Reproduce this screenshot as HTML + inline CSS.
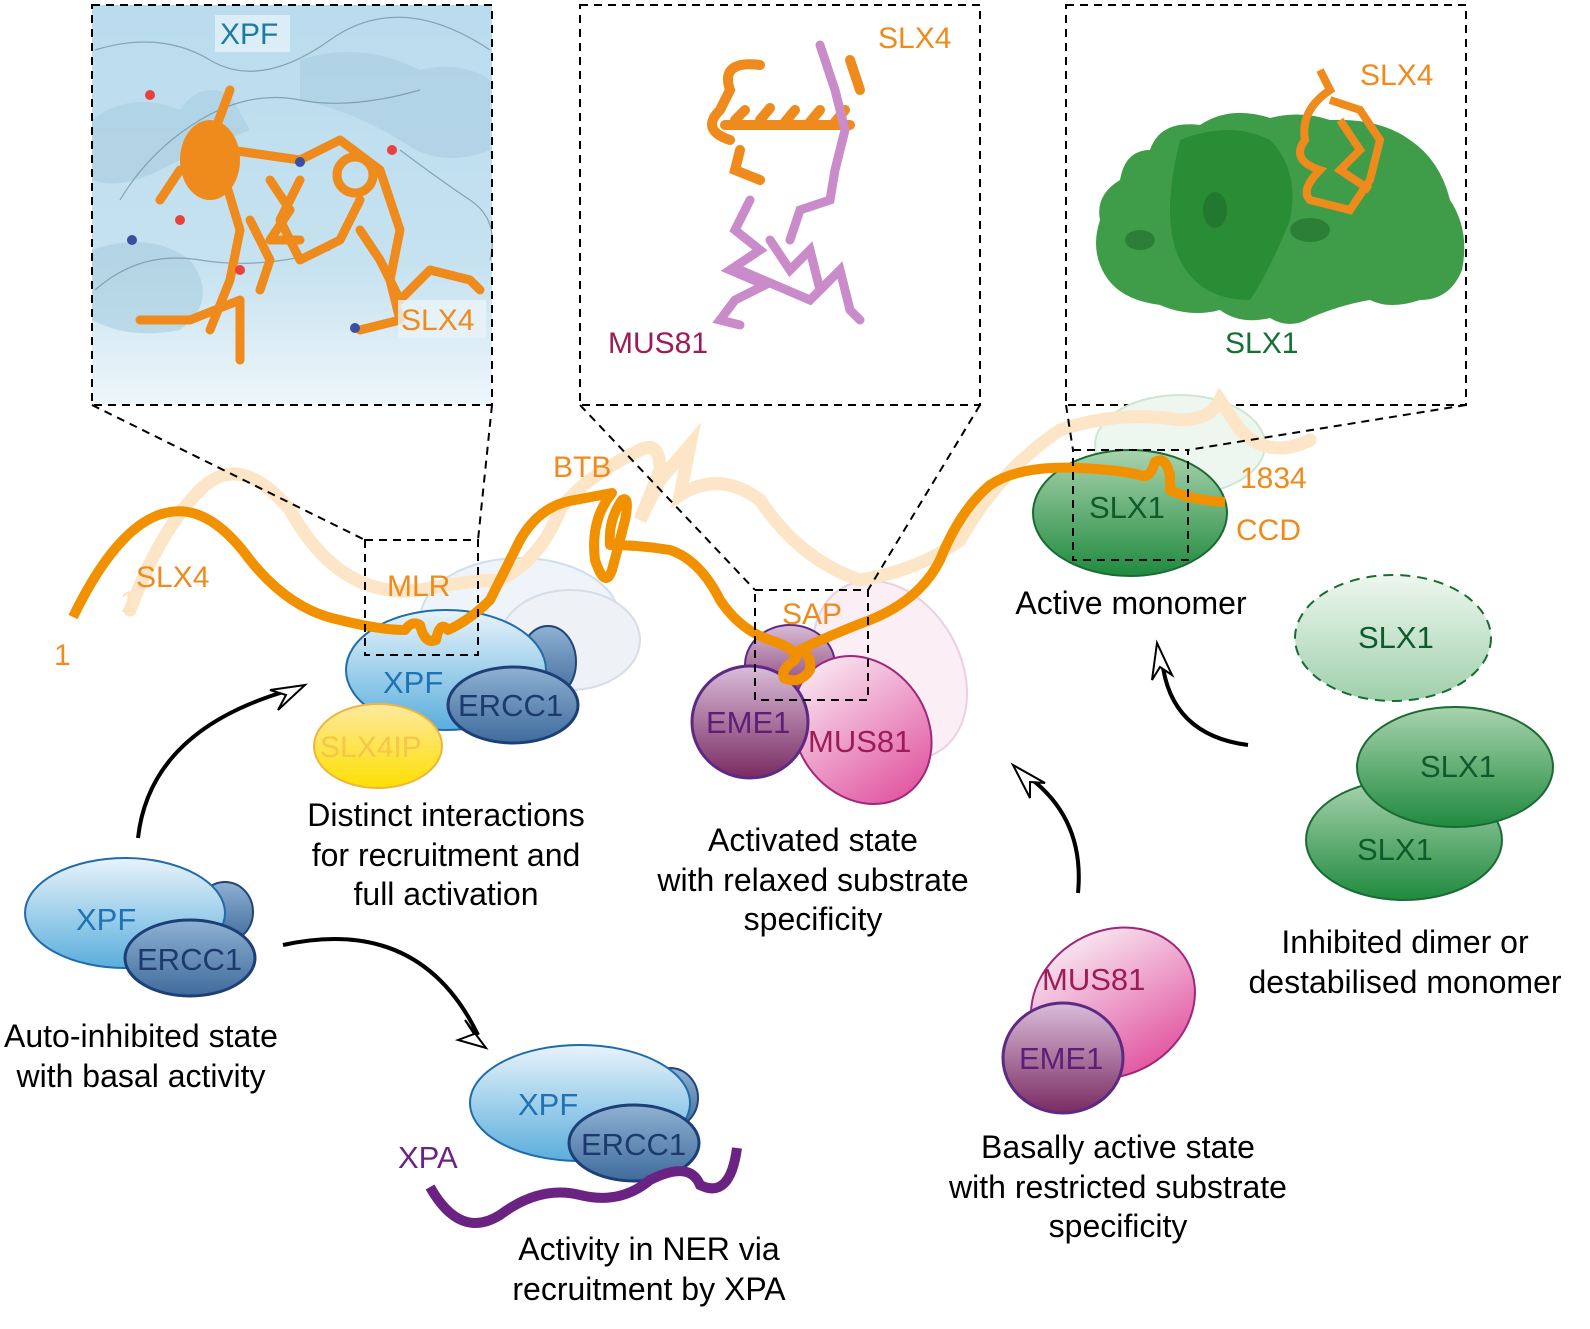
<!DOCTYPE html>
<html><head><meta charset="utf-8"><style>
html,body{margin:0;padding:0;background:#fff}
svg{display:block}
text{font-family:"Liberation Sans",Arial,sans-serif}
</style></head><body>
<svg width="1590" height="1329" viewBox="0 0 1590 1329" xmlns="http://www.w3.org/2000/svg">
<defs>
<linearGradient id="gb" x1="0" y1="0" x2="0" y2="1"><stop offset="0" stop-color="#e8f3fb"/><stop offset="1" stop-color="#5aaedc"/></linearGradient>
<linearGradient id="gd" x1="0" y1="0" x2="0" y2="1"><stop offset="0" stop-color="#8fb1d3"/><stop offset="1" stop-color="#3f6b9c"/></linearGradient>
<linearGradient id="gy" x1="0" y1="0" x2="0" y2="1"><stop offset="0" stop-color="#fde9a0"/><stop offset="1" stop-color="#fde000"/></linearGradient>
<linearGradient id="gp" x1="0" y1="0" x2="0" y2="1"><stop offset="0" stop-color="#f8e2ef"/><stop offset="1" stop-color="#e25aa3"/></linearGradient>
<linearGradient id="ge" x1="0" y1="0" x2="0" y2="1"><stop offset="0" stop-color="#d9bcd9"/><stop offset="1" stop-color="#7a2b62"/></linearGradient>
<linearGradient id="gg" x1="0" y1="0" x2="0" y2="1"><stop offset="0" stop-color="#a9d3ae"/><stop offset="1" stop-color="#1f8a3e"/></linearGradient>
<linearGradient id="gl" x1="0" y1="0" x2="0" y2="1"><stop offset="0" stop-color="#eef7ef"/><stop offset="1" stop-color="#9fd0ab"/></linearGradient>
<linearGradient id="gpanel" x1="0" y1="0" x2="0" y2="1"><stop offset="0" stop-color="#b9dcee"/><stop offset="0.65" stop-color="#c6e2f0"/><stop offset="1" stop-color="#eef6fb"/></linearGradient>
</defs>

<!-- panel 1 -->
<rect x="92" y="5" width="400" height="400" fill="url(#gpanel)"/>
<g fill="#a9cde0" opacity="0.6">
<path d="M92 120 Q130 90 180 110 Q200 80 230 95 L250 130 Q200 150 160 170 Q120 190 92 180 Z"/>
<path d="M300 60 Q360 40 420 70 Q460 60 490 80 L490 150 Q440 170 400 140 Q350 110 300 100 Z"/>
<path d="M92 250 Q150 230 190 260 Q220 300 180 330 Q130 340 92 320 Z"/>
</g>
<g fill="none" stroke="#6f8a99" stroke-width="1.2" opacity="0.7">
<path d="M95 50 Q160 30 210 60 T330 40 T490 50"/>
<path d="M120 200 Q150 150 200 120 T300 100 T420 90"/>
<path d="M95 290 Q140 250 200 260 T330 250"/>
<path d="M400 150 Q440 180 470 200 T490 260"/>
</g>
<g stroke="#ef8a1d" stroke-width="9" fill="none" stroke-linecap="round" stroke-linejoin="round">
<path d="M230 90 L215 130 L225 180 L240 230 L230 280 L210 330"/>
<path d="M140 320 L190 320 L240 300 L240 360"/>
<path d="M230 150 L300 160 L340 140 L380 170 L400 230 L390 280"/>
<path d="M300 180 L280 220 L300 260 L340 240 L360 200"/>
<path d="M360 230 L380 260 L400 300 L430 270 L470 280 L480 290"/>
<path d="M390 280 L400 320 L360 330"/>
<path d="M270 180 L290 210 L270 240 L300 240 M180 170 L160 200 M250 220 L270 260 L260 290"/>
</g>
<g fill="#e8413f"><circle cx="150" cy="95" r="5"/><circle cx="180" cy="220" r="5"/><circle cx="392" cy="150" r="5"/><circle cx="240" cy="270" r="5"/></g>
<g fill="#3a4fa0"><circle cx="132" cy="240" r="5"/><circle cx="300" cy="162" r="5"/><circle cx="355" cy="328" r="5"/></g>
<ellipse cx="210" cy="160" rx="30" ry="40" fill="#ef8a1d"/>
<circle cx="355" cy="175" r="18" fill="none" stroke="#ef8a1d" stroke-width="9"/>
<rect x="215" y="15" width="75" height="37" fill="#e4f1f8" opacity="0.8"/>
<text x="220" y="44" font-size="30" fill="#1f7aa1">XPF</text>
<rect x="398" y="300" width="88" height="38" fill="#eaf4f9" opacity="0.8"/>
<text x="401" y="330" font-size="30" fill="#ef8a1d">SLX4</text>
<rect x="92" y="5" width="400" height="400" fill="none" stroke="#000" stroke-width="2" stroke-dasharray="8,6"/>

<!-- panel 2 -->
<g stroke="#ef8a1d" stroke-width="10" fill="none" stroke-linecap="round">
<path d="M760 65 Q720 60 730 90 L720 110 Q700 130 730 140"/>
<path d="M735 120 L745 110 M760 120 L770 108 M785 122 L795 110 M810 122 L820 110 M835 122 L845 110"/>
<path d="M725 125 L850 125"/>
<path d="M740 150 L735 170 L760 180"/>
<path d="M850 60 L860 90"/>
</g>
<g stroke="#c98bc9" stroke-width="9" fill="none" stroke-linecap="round">
<path d="M820 45 L835 90 L845 130 L835 170 L830 200 L800 210 L790 240"/>
<path d="M750 200 L735 230 L760 250 L730 270 L765 285 L735 300 L720 320 L740 325"/>
<path d="M770 240 L790 270 L810 250 L820 290 L840 270 L850 310 L860 320"/>
<path d="M740 270 L810 300 L830 280"/>
</g>
<text x="878" y="48" font-size="30" fill="#ef8a1d">SLX4</text>
<text x="608" y="353" font-size="30" fill="#9b1c57">MUS81</text>
<rect x="580" y="5" width="400" height="400" fill="none" stroke="#000" stroke-width="2" stroke-dasharray="8,6"/>

<!-- panel 3 -->
<path d="M1120 180 Q1125 150 1150 150 Q1160 120 1200 125 Q1230 105 1270 118 Q1300 110 1330 120 Q1380 118 1410 140 Q1440 160 1450 200 Q1470 230 1462 270 Q1450 300 1420 300 Q1390 310 1370 300 Q1340 305 1310 318 Q1290 330 1270 318 Q1240 325 1220 310 Q1190 318 1160 305 Q1120 300 1105 275 Q1090 250 1100 220 Q1095 195 1120 180 Z" fill="#3f9d4a"/>
<path d="M1180 140 Q1230 120 1270 140 Q1300 170 1290 220 Q1270 270 1250 300 Q1200 300 1180 260 Q1160 220 1180 140 Z" fill="#23892f" opacity="0.8"/>
<g fill="#1f6b2c" opacity="0.6"><ellipse cx="1140" cy="240" rx="15" ry="10"/><ellipse cx="1310" cy="230" rx="20" ry="12"/><ellipse cx="1215" cy="210" rx="12" ry="18"/></g>
<g stroke="#ef8a1d" stroke-width="8" fill="none">
<path d="M1320 70 L1330 90 Q1300 110 1305 140 Q1290 160 1320 170 Q1300 190 1310 200 L1350 210 L1370 180 L1380 140 L1360 110 L1330 100"/>
<path d="M1340 120 L1360 150 L1340 170 L1370 190"/>
</g>
<text x="1360" y="85" font-size="30" fill="#ef8a1d">SLX4</text>
<text x="1225" y="353" font-size="30" fill="#157035">SLX1</text>
<rect x="1066" y="5" width="400" height="400" fill="none" stroke="#000" stroke-width="2" stroke-dasharray="8,6"/>

<!-- faded background shapes -->
<ellipse cx="520" cy="620" rx="100" ry="62" fill="#eef4fa" stroke="#cfdeec" stroke-width="2"/>
<ellipse cx="570" cy="640" rx="70" ry="50" fill="#eef2f7" stroke="#d5dde8" stroke-width="2"/>
<ellipse cx="890" cy="670" rx="70" ry="95" transform="rotate(-30 890 670)" fill="#fbeef5" stroke="#ead0e2" stroke-width="2"/>
<ellipse cx="1180" cy="445" rx="85" ry="50" fill="#eef7ef" stroke="#cfe6d4" stroke-width="2"/>

<!-- faded SLX4 -->
<path d="M130 610 Q160 530 200 490 Q240 450 290 510 Q340 600 420 590 Q470 580 500 580 Q540 560 560 510 Q580 480 640 450 Q660 440 660 470 L640 520 L660 480 L690 445 L680 495 Q720 470 760 500 Q800 560 860 580 Q920 570 960 540 Q1000 470 1060 430 Q1120 410 1180 420 Q1210 420 1220 400 L1240 430 Q1270 460 1310 440" fill="none" stroke="#fde6c8" stroke-width="13" stroke-linecap="round"/>
<text x="120" y="612" font-size="30" fill="#fde0bd">1</text>

<!-- middle complexes -->
<ellipse cx="548" cy="662" rx="28" ry="36" fill="url(#gd)" stroke="#23437a" stroke-width="2"/>
<ellipse cx="446" cy="670" rx="100" ry="60" fill="url(#gb)" stroke="#1f6ca8" stroke-width="2"/>
<ellipse cx="378" cy="746" rx="64" ry="42" fill="url(#gy)" stroke="#f0b43a" stroke-width="2"/>
<text x="320" y="757" font-size="30" fill="#f5c64a">SLX4IP</text>
<ellipse cx="513" cy="705" rx="65" ry="38" fill="url(#gd)" stroke="#1d3f77" stroke-width="3"/>
<text x="383" y="693" font-size="31" fill="#1f73b5">XPF</text>
<text x="458" y="716" font-size="31" fill="#1c3a6e">ERCC1</text>

<ellipse cx="790" cy="665" rx="45" ry="40" fill="url(#ge)" stroke="#5c2a85" stroke-width="2"/>
<ellipse cx="862" cy="730" rx="65" ry="78" transform="rotate(-35 862 730)" fill="url(#gp)" stroke="#a0267c" stroke-width="2"/>
<ellipse cx="750" cy="722" rx="58" ry="56" fill="url(#ge)" stroke="#5c2a85" stroke-width="3"/>
<text x="706" y="733" font-size="31" fill="#5c1f78">EME1</text>
<text x="808" y="752" font-size="31" fill="#9b1c57">MUS81</text>

<ellipse cx="1130" cy="513" rx="97" ry="63" fill="url(#gg)" stroke="#1a6b33" stroke-width="2"/>
<text x="1089" y="518" font-size="31" fill="#0f5b2b">SLX1</text>

<!-- main SLX4 -->
<path d="M73 617 Q120 520 170 512 Q210 505 250 560 Q290 610 340 620 Q380 630 405 630 Q412 620 420 625 Q425 645 436 640 Q440 620 448 630 Q470 620 490 600 Q510 560 520 540 Q540 505 575 500 L612 493 Q590 520 595 560 Q605 590 612 570 Q620 540 625 520 Q630 495 622 500 Q608 520 610 545 Q640 545 670 550 Q700 560 720 600 Q740 630 770 640 Q800 650 795 660 Q780 670 784 678 Q800 685 810 670 Q812 655 800 650 Q830 635 870 620 Q920 600 940 560 Q960 510 990 485 Q1020 465 1080 468 Q1120 470 1140 475 Q1150 480 1155 462 Q1165 455 1170 475 L1170 490 Q1190 500 1225 502" fill="none" stroke="#f29100" stroke-width="10" stroke-linecap="butt" stroke-linejoin="round"/>

<!-- labels on SLX4 -->
<g font-size="30" fill="#ef8a1d">
<text x="54" y="665">1</text>
<text x="136" y="587">SLX4</text>
<text x="387" y="596">MLR</text>
<text x="553" y="477">BTB</text>
<text x="782" y="624">SAP</text>
<text x="1240" y="488">1834</text>
<text x="1236" y="540">CCD</text>
</g>

<!-- projection dashed -->
<g fill="none" stroke="#000" stroke-width="2" stroke-dasharray="8,6">
<path d="M92 405 L365 540 M492 405 L478 540"/>
<rect x="365" y="540" width="113" height="115"/>
<path d="M580 405 L755 590 M980 405 L868 590"/>
<rect x="755" y="590" width="113" height="110"/>
<path d="M1066 405 L1073 450 M1466 405 L1188 450"/>
<rect x="1073" y="450" width="115" height="110"/>
</g>

<!-- bottom left XPF-ERCC1 -->
<ellipse cx="225" cy="912" rx="28" ry="30" fill="url(#gd)" stroke="#23437a" stroke-width="2"/>
<ellipse cx="125" cy="913" rx="100" ry="55" fill="url(#gb)" stroke="#1f6ca8" stroke-width="2"/>
<ellipse cx="190" cy="958" rx="65" ry="38" fill="url(#gd)" stroke="#1d3f77" stroke-width="3"/>
<text x="76" y="930" font-size="31" fill="#1f73b5">XPF</text>
<text x="137" y="970" font-size="31" fill="#1c3a6e">ERCC1</text>

<!-- bottom XPF-ERCC1 with XPA -->
<ellipse cx="670" cy="1098" rx="28" ry="30" fill="url(#gd)" stroke="#23437a" stroke-width="2"/>
<ellipse cx="580" cy="1103" rx="110" ry="58" fill="url(#gb)" stroke="#1f6ca8" stroke-width="2"/>
<ellipse cx="634" cy="1143" rx="65" ry="38" fill="url(#gd)" stroke="#1d3f77" stroke-width="3"/>
<text x="518" y="1115" font-size="31" fill="#1f73b5">XPF</text>
<text x="581" y="1155" font-size="31" fill="#1c3a6e">ERCC1</text>
<path d="M430 1187 Q460 1240 500 1215 Q540 1185 580 1195 Q620 1205 650 1180 Q690 1160 700 1185 Q730 1200 737 1148" fill="none" stroke="#6b2383" stroke-width="10"/>
<text x="398" y="1168" font-size="31" fill="#6b2383">XPA</text>

<!-- bottom MUS81-EME1 -->
<ellipse cx="1113" cy="1003" rx="85" ry="72" transform="rotate(-30 1113 1003)" fill="url(#gp)" stroke="#a0267c" stroke-width="2"/>
<ellipse cx="1063" cy="1058" rx="60" ry="55" fill="url(#ge)" stroke="#5c2a85" stroke-width="3"/>
<text x="1042" y="990" font-size="31" fill="#9b1c57">MUS81</text>
<text x="1019" y="1069" font-size="31" fill="#5c1f78">EME1</text>

<!-- SLX1 right -->
<ellipse cx="1393" cy="638" rx="98" ry="63" fill="url(#gl)" stroke="#1a6b33" stroke-width="2" stroke-dasharray="10,7"/>
<text x="1358" y="648" font-size="31" fill="#0f5b2b">SLX1</text>
<ellipse cx="1404" cy="840" rx="98" ry="60" fill="url(#gg)" stroke="#1a6b33" stroke-width="2"/>
<ellipse cx="1455" cy="767" rx="98" ry="60" fill="url(#gg)" stroke="#1a6b33" stroke-width="2"/>
<text x="1420" y="777" font-size="31" fill="#0f5b2b">SLX1</text>
<text x="1357" y="860" font-size="31" fill="#0f5b2b">SLX1</text>

<!-- arrows -->
<g fill="none" stroke="#000" stroke-width="4">
<path d="M138 838 Q150 730 290 690"/>
<path d="M283 945 Q420 915 478 1035"/>
<path d="M1078 893 Q1085 820 1030 778"/>
<path d="M1248 745 Q1170 735 1162 660"/>
</g>
<g fill="#fff" stroke="#000" stroke-width="2">
<path d="M305 685 L270 690 L286 695 L278 710 Z"/>
<path d="M486 1048 L465 1020 L474 1034 L458 1040 Z"/>
<path d="M1013 765 L1030 798 L1030 782 L1045 783 Z"/>
<path d="M1157 643 L1152 680 L1160 667 L1172 675 Z"/>
</g>

<!-- captions -->
<g font-size="32" fill="#000" text-anchor="middle">
<text x="446" y="826">Distinct interactions</text>
<text x="446" y="866">for recruitment and</text>
<text x="446" y="905">full activation</text>
<text x="813" y="851">Activated state</text>
<text x="813" y="891">with relaxed substrate</text>
<text x="813" y="930">specificity</text>
<text x="1131" y="614">Active monomer</text>
<text x="1405" y="953">Inhibited dimer or</text>
<text x="1405" y="993">destabilised monomer</text>
<text x="141" y="1047">Auto-inhibited state</text>
<text x="141" y="1087">with basal activity</text>
<text x="649" y="1260">Activity in NER via</text>
<text x="649" y="1300">recruitment by XPA</text>
<text x="1118" y="1158">Basally active state</text>
<text x="1118" y="1198">with restricted substrate</text>
<text x="1118" y="1237">specificity</text>
</g>
</svg>
</body></html>
